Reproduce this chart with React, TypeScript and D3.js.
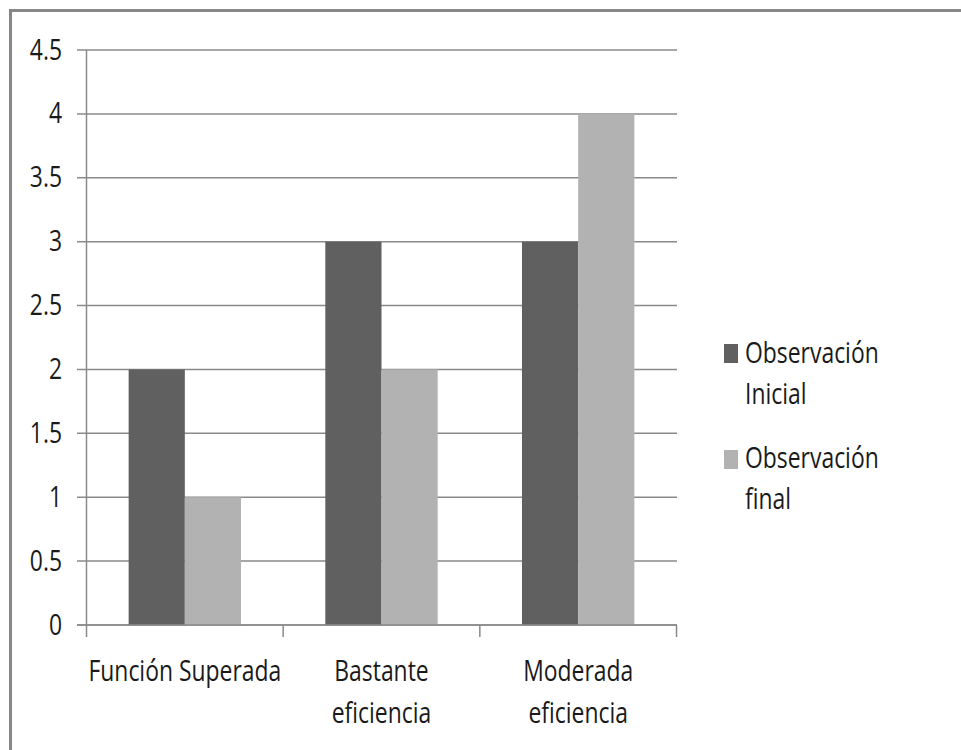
import React from "react";
import * as d3 from "d3";

const categories = ["Función Superada", "Bastante eficiencia", "Moderada eficiencia"];
const categoryLines = [["Función Superada"], ["Bastante", "eficiencia"], ["Moderada", "eficiencia"]];
const seriesNames = ["Observación Inicial", "Observación final"];
const legendLines = [["Observación", "Inicial"], ["Observación", "final"]];
const inicial = [2, 3, 3];
const final = [1, 2, 4];
const yTicks = [0, 0.5, 1, 1.5, 2, 2.5, 3, 3.5, 4, 4.5];

const colors = ["#606060", "#b2b2b2"];
const gridColor = "#8a8a8a";
const textColor = "#1a1a1a";
const FONT = "'Open Sans', 'Noto Sans', sans-serif";
const FS = 29;
const SX = 0.79;

export default function App() {
  const x0 = d3.scaleBand<string>().domain(categories).range([86.5, 676.5]).paddingInner(0).paddingOuter(0);
  const x1 = d3.scaleBand<string>().domain(seriesNames).range([0, x0.bandwidth()]).paddingInner(0).paddingOuter(0.75);
  const y = d3.scaleLinear().domain([0, 4.5]).range([625, 50]);
  const series = [inicial, final];
  const catEdges = [...categories.map((c) => x0(c)!), x0.range()[1]];

  const T = (x: number, yy: number, s: string, anchor: string, key: string) => (
    <text
      key={key}
      transform={`translate(${x},${yy}) scale(${SX},1)`}
      textAnchor={anchor}
      fontFamily={FONT}
      fontSize={FS}
      fill={textColor}
    >
      {s}
    </text>
  );

  return (
    <svg width={961} height={750} style={{ position: "absolute", left: 0, top: 0, background: "#fff" }}>
      <rect x={0} y={0} width={961} height={750} fill="#fff" />
      {/* outer border (top & left) */}
      <path d="M10.5,750 V10.5 H961" fill="none" stroke="#878787" strokeWidth={3} />
      {/* gridlines + y ticks */}
      {yTicks.map((t) => (
        <line key={"g" + t} x1={77} x2={677} y1={y(t)} y2={y(t)} stroke={gridColor} strokeWidth={1.5} />
      ))}
      {/* bars */}
      {categories.map((c, i) =>
        series.map((s, j) => (
          <rect
            key={c + j}
            x={x0(c)! + x1(seriesNames[j])!}
            y={y(s[i])}
            width={x1.bandwidth()}
            height={y(0) - y(s[i])}
            fill={colors[j]}
          />
        ))
      )}
      {/* axes */}
      <line x1={86.5} x2={86.5} y1={y(4.5)} y2={y(0)} stroke={gridColor} strokeWidth={1.5} />
      <line x1={77} x2={677} y1={y(0)} y2={y(0)} stroke={gridColor} strokeWidth={1.5} />
      {catEdges.map((e, i) => (
        <line key={"xt" + i} x1={e} x2={e} y1={y(0)} y2={y(0) + 12} stroke={gridColor} strokeWidth={1.5} />
      ))}
      {/* y labels */}
      {yTicks.map((t) => T(62, y(t) + 9.5, String(t), "end", "yl" + t))}
      {/* x labels */}
      {categories.map((c, i) =>
        categoryLines[i].map((ln, k) => T(x0(c)! + x0.bandwidth() / 2, 681 + k * 42, ln, "middle", c + k))
      )}
      {/* legend */}
      {seriesNames.map((s, j) => (
        <g key={s}>
          <rect x={724} y={344 + j * 106} width={14} height={19} fill={colors[j]} />
          {legendLines[j].map((ln, k) => T(745, 363 + j * 105 + k * 41, ln, "start", s + k))}
        </g>
      ))}
    </svg>
  );
}
